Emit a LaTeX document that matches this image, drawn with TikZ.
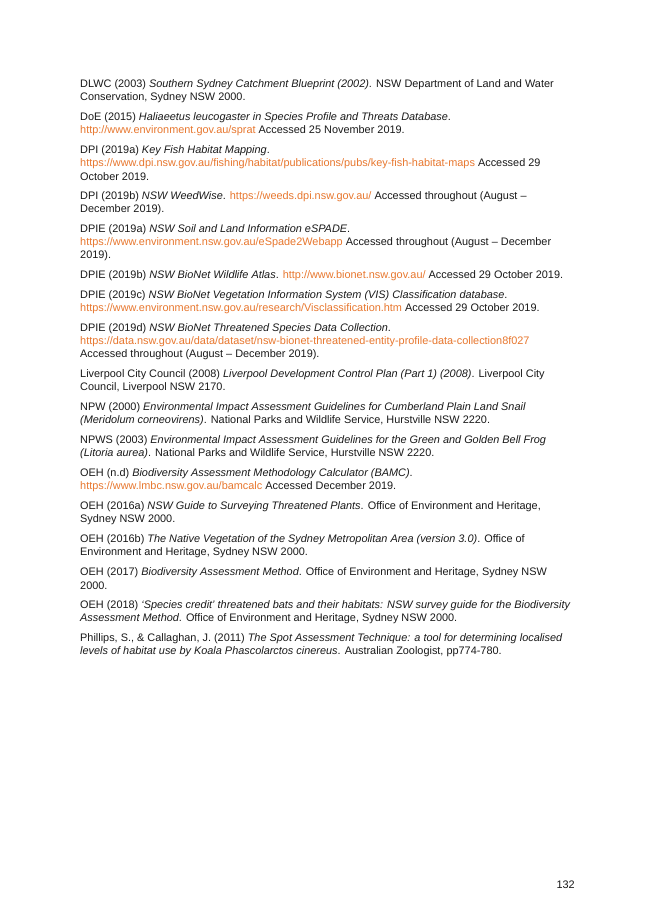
\documentclass[tikz,border=0pt]{standalone}
\usepackage{fontspec}
\setmainfont{Liberation Sans}
\definecolor{lnk}{HTML}{E8772E}
\definecolor{txt}{HTML}{1A1A1A}
\newcommand{\lk}[1]{\textcolor{lnk}{#1}}
\begin{document}
\begin{tikzpicture}[x=1pt,y=-1pt,ln/.style={anchor=west,inner sep=0pt,font=\fontsize{10.9}{13}\selectfont,text=txt}]
\useasboundingbox[fill=white] (0,0) rectangle (653,923);
\node[ln] (l1) at (80,85) {DLWC (2003) \textit{Southern Sydney Catchment Blueprint (2002)}. NSW Department of Land and Water};
\node[ln] (l2) at (80,98) {Conservation, Sydney NSW 2000.};
\node[ln] (l3) at (80,118) {DoE (2015) \textit{Haliaeetus leucogaster in Species Profile and Threats Database}.};
\node[ln] (l4) at (80,131) {\lk{http://www.environment.gov.au/sprat} Accessed 25 November 2019.};
\node[ln] (l5) at (80,151) {DPI (2019a) \textit{Key Fish Habitat Mapping}.};
\node[ln] (l6) at (80,164) {\lk{https://www.dpi.nsw.gov.au/fishing/habitat/publications/pubs/key-fish-habitat-maps} Accessed 29};
\node[ln] (l7) at (80,177) {October 2019.};
\node[ln] (l8) at (80,197) {DPI (2019b) \textit{NSW WeedWise}. \lk{https://weeds.dpi.nsw.gov.au/} Accessed throughout (August –};
\node[ln] (l9) at (80,210) {December 2019).};
\node[ln] (l10) at (80,230) {DPIE (2019a) \textit{NSW Soil and Land Information eSPADE}.};
\node[ln] (l11) at (80,243) {\lk{https://www.environment.nsw.gov.au/eSpade2Webapp} Accessed throughout (August – December};
\node[ln] (l12) at (80,256) {2019).};
\node[ln] (l13) at (80,276) {DPIE (2019b) \textit{NSW BioNet Wildlife Atlas}. \lk{http://www.bionet.nsw.gov.au/} Accessed 29 October 2019.};
\node[ln] (l14) at (80,296) {DPIE (2019c) \textit{NSW BioNet Vegetation Information System (VIS) Classification database}.};
\node[ln] (l15) at (80,309) {\lk{https://www.environment.nsw.gov.au/research/Visclassification.htm} Accessed 29 October 2019.};
\node[ln] (l16) at (80,329) {DPIE (2019d) \textit{NSW BioNet Threatened Species Data Collection}.};
\node[ln] (l17) at (80,342) {\lk{https://data.nsw.gov.au/data/dataset/nsw-bionet-threatened-entity-profile-data-collection8f027}};
\node[ln] (l18) at (80,355) {Accessed throughout (August – December 2019).};
\node[ln] (l19) at (80,375) {Liverpool City Council (2008) \textit{Liverpool Development Control Plan (Part 1) (2008)}. Liverpool City};
\node[ln] (l20) at (80,388) {Council, Liverpool NSW 2170.};
\node[ln] (l21) at (80,408) {NPW (2000) \textit{Environmental Impact Assessment Guidelines for Cumberland Plain Land Snail}};
\node[ln] (l22) at (80,421) {\textit{(Meridolum corneovirens)}. National Parks and Wildlife Service, Hurstville NSW 2220.};
\node[ln] (l23) at (80,441) {NPWS (2003) \textit{Environmental Impact Assessment Guidelines for the Green and Golden Bell Frog}};
\node[ln] (l24) at (80,454) {\textit{(Litoria aurea)}. National Parks and Wildlife Service, Hurstville NSW 2220.};
\node[ln] (l25) at (80,474) {OEH (n.d) \textit{Biodiversity Assessment Methodology Calculator (BAMC)}.};
\node[ln] (l26) at (80,487) {\lk{https://www.lmbc.nsw.gov.au/bamcalc} Accessed December 2019.};
\node[ln] (l27) at (80,507) {OEH (2016a) \textit{NSW Guide to Surveying Threatened Plants}. Office of Environment and Heritage,};
\node[ln] (l28) at (80,520) {Sydney NSW 2000.};
\node[ln] (l29) at (80,540) {OEH (2016b) \textit{The Native Vegetation of the Sydney Metropolitan Area (version 3.0)}. Office of};
\node[ln] (l30) at (80,553) {Environment and Heritage, Sydney NSW 2000.};
\node[ln] (l31) at (80,573) {OEH (2017) \textit{Biodiversity Assessment Method}. Office of Environment and Heritage, Sydney NSW};
\node[ln] (l32) at (80,586) {2000.};
\node[ln] (l33) at (80,606) {OEH (2018) \textit{‘Species credit’ threatened bats and their habitats: NSW survey guide for the Biodiversity}};
\node[ln] (l34) at (80,619) {\textit{Assessment Method}. Office of Environment and Heritage, Sydney NSW 2000.};
\node[ln] (l35) at (80,639) {Phillips, S., \& Callaghan, J. (2011) \textit{The Spot Assessment Technique: a tool for determining localised}};
\node[ln] (l36) at (80,652) {\textit{levels of habitat use by Koala Phascolarctos cinereus}. Australian Zoologist, pp774-780.};
\node[ln,anchor=east] (pg) at (575,885) {132};
\end{tikzpicture}
\end{document}
